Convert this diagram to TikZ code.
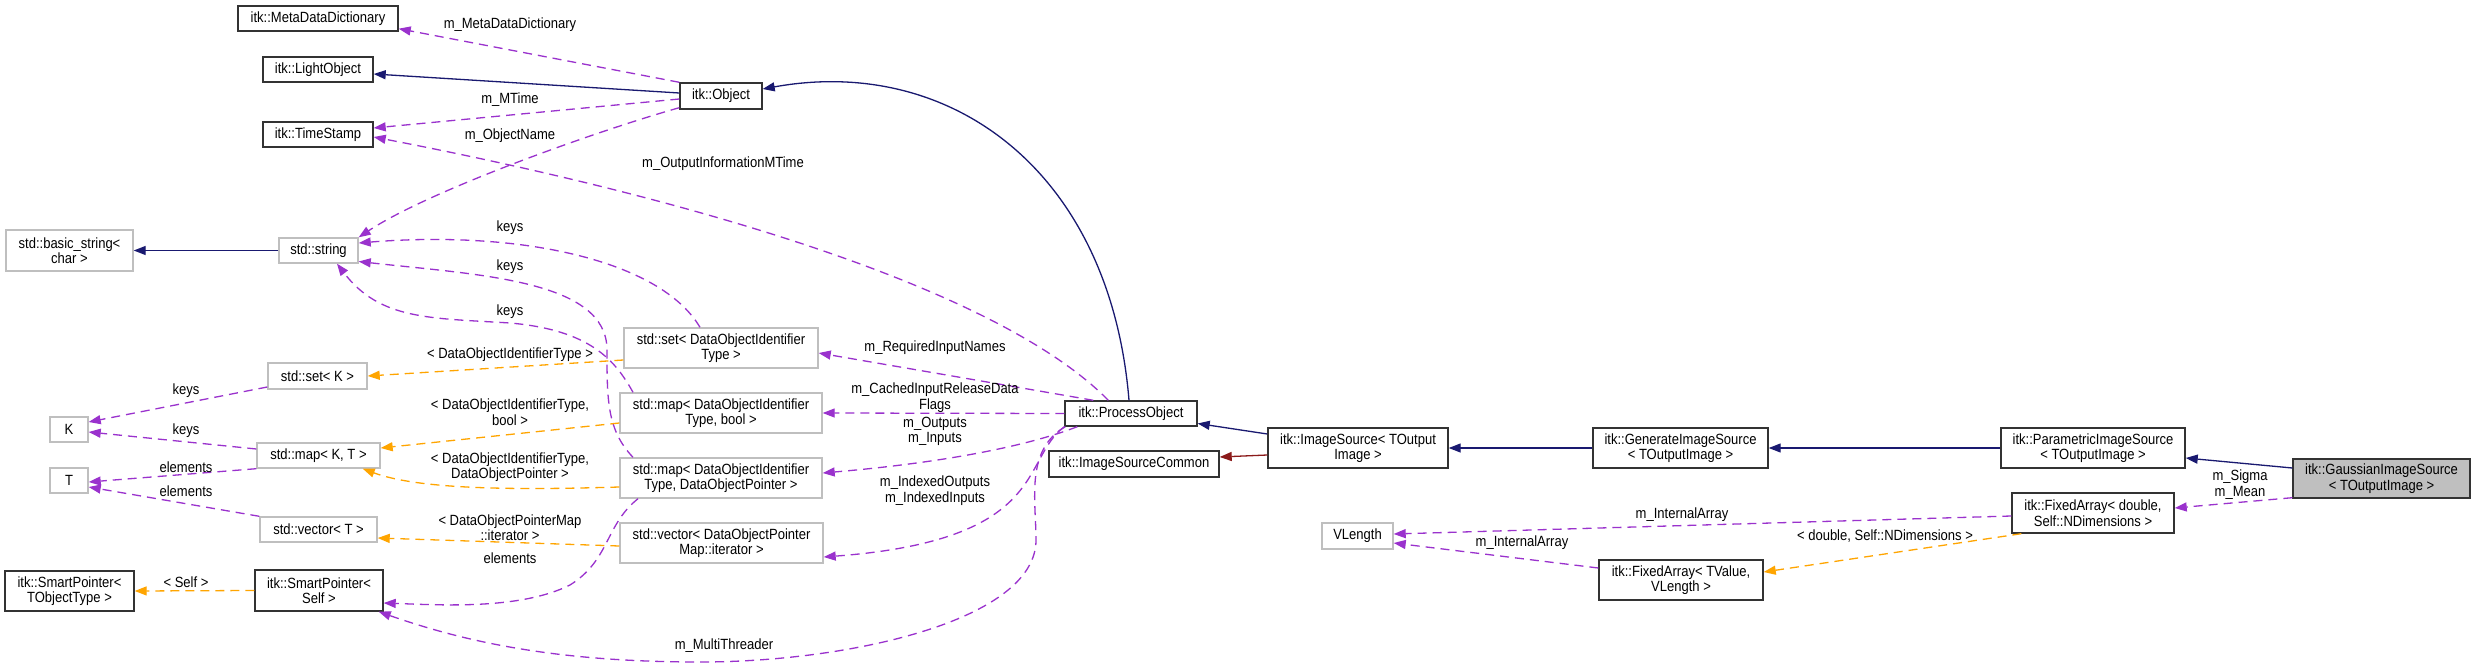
\documentclass[tikz,border=0pt]{standalone}
\usepackage{fontspec}
\setmainfont{Liberation Sans}[FakeStretch=0.88]
\usetikzlibrary{arrows.meta}
\definecolor{inh}{HTML}{191970}
\definecolor{use}{HTML}{9A32CD}
\definecolor{tpl}{HTML}{FFA500}
\definecolor{prv}{HTML}{8B1A1A}
\definecolor{grayb}{HTML}{BFBFBF}
\begin{document}
\begin{tikzpicture}[x=1pt,y=-1pt, font=\fontsize{14.8}{15.5}\selectfont,
 cls/.style={draw=black!80, line width=1.4pt, fill=white, inner sep=0pt, align=center},
 ext/.style={cls, draw=grayb},
 arrowtip/.style={-{Triangle[length=12pt,width=9pt]}},
 inhe/.style={draw=inh, line width=1.3pt, arrowtip},
 prve/.style={draw=prv, line width=1.3pt, arrowtip},
 usee/.style={draw=use, line width=1.3pt, dash pattern=on 9pt off 6pt, arrowtip},
 tple/.style={draw=tpl, line width=1.3pt, dash pattern=on 9pt off 6pt, arrowtip},
 lbl/.style={inner sep=0pt, align=center, text=black}]
\fill[white] (0,0) rectangle (2475,671);
\useasboundingbox (0,0) rectangle (2475,671);

% nodes
\node[cls, minimum width=160, minimum height=25] (mdd) at (318,18.5) {itk::MetaDataDictionary};
\node[cls, minimum width=110, minimum height=25] (lo) at (318,69.5) {itk::LightObject};
\node[cls, minimum width=110, minimum height=25] (ts) at (318,134.5) {itk::TimeStamp};
\node[cls, minimum width=82, minimum height=26] (obj) at (721,96) {itk::Object};
\node[ext, minimum width=127, minimum height=41] (bs) at (69.5,250.5) {std::basic\_string<\\char >};
\node[ext, minimum width=79, minimum height=25] (str) at (318.5,250.5) {std::string};
\node[ext, minimum width=99, minimum height=26] (setk) at (317.5,376) {std::set< K >};
\node[ext, minimum width=38, minimum height=25] (K) at (69,429.5) {K};
\node[ext, minimum width=123, minimum height=25] (mapkt) at (318.5,455.5) {std::map< K, T >};
\node[ext, minimum width=38, minimum height=25] (T) at (69,480.5) {T};
\node[ext, minimum width=117, minimum height=25] (vect) at (318.5,529.5) {std::vector< T >};
\node[cls, minimum width=129, minimum height=40] (spt) at (69.5,591) {itk::SmartPointer<\\TObjectType >};
\node[cls, minimum width=128, minimum height=41] (sps) at (319,590.5) {itk::SmartPointer<\\Self >};
\node[ext, minimum width=194, minimum height=40] (setd) at (721,348) {std::set< DataObjectIdentifier\\Type >};
\node[ext, minimum width=202, minimum height=40] (mapdb) at (721,413) {std::map< DataObjectIdentifier\\Type, bool >};
\node[ext, minimum width=202, minimum height=40] (mapdp) at (721,478) {std::map< DataObjectIdentifier\\Type, DataObjectPointer >};
\node[ext, minimum width=203, minimum height=40] (vecd) at (721.5,543) {std::vector< DataObjectPointer\\Map::iterator >};
\node[cls, minimum width=132, minimum height=25] (po) at (1131,413.5) {itk::ProcessObject};
\node[cls, minimum width=170, minimum height=26] (isc) at (1134,464) {itk::ImageSourceCommon};
\node[cls, minimum width=180, minimum height=40] (is) at (1358,448) {itk::ImageSource< TOutput\\Image >};
\node[cls, minimum width=175, minimum height=40] (gis) at (1680.5,448) {itk::GenerateImageSource\\< TOutputImage >};
\node[cls, minimum width=184, minimum height=40] (pis) at (2093,448) {itk::ParametricImageSource\\< TOutputImage >};
\node[cls, fill=grayb, minimum width=177, minimum height=39] (gauss) at (2381.5,478.5) {itk::GaussianImageSource\\< TOutputImage >};
\node[cls, minimum width=162, minimum height=40] (fad) at (2093,513) {itk::FixedArray< double,\\Self::NDimensions >};
\node[ext, minimum width=71, minimum height=26] (vlen) at (1357.5,536) {VLength};
\node[cls, minimum width=164, minimum height=40] (fav) at (1681,580) {itk::FixedArray< TValue,\\VLength >};

% inheritance
\draw[inhe] ([yshift=3pt]obj.west) -- ([yshift=-4.5pt]lo.east);
\draw[inhe] ([xshift=-2pt]po.north) .. controls (1110,170) and (950,55) .. ([yshift=7pt]obj.east);
\draw[inhe] ([yshift=14pt]is.west) -- ([yshift=-10pt]po.east);
\draw[prve] ([yshift=-7pt]is.west) -- ([yshift=7pt]isc.east);
\draw[inhe] (gis.west) -- (is.east);
\draw[inhe] (pis.west) -- (gis.east);
\draw[inhe] ([yshift=10.5pt]gauss.west) -- ([yshift=-10pt]pis.east);
\draw[inhe] (str.west) -- (bs.east);

% usage
\draw[usee] (obj.north west) -- ([yshift=3pt]mdd.south east)
  node[lbl, at={(510,25)}] {m\_MetaDataDictionary};
\draw[usee] ([yshift=-3pt]obj.west) -- ([yshift=6.5pt]ts.east)
  node[lbl, at={(510,100)}] {m\_MTime};
\draw[usee] ([yshift=2pt]obj.south west) .. controls (600,130) and (430,190) .. (str.north east)
  node[lbl, at={(510,136)}] {m\_ObjectName};
\draw[usee] ([xshift=44pt]po.north west) .. controls (1000,290) and (700,200) .. ([yshift=-2.5pt]ts.east)
  node[lbl, at={(723,164)}] {m\_OutputInformationMTime};
\draw[usee] ([xshift=-21pt]setd.north) .. controls (660,260) and (520,230) .. ([yshift=7.5pt]str.east)
  node[lbl, at={(510,228)}] {keys};
\draw[usee] ([xshift=-88pt]mapdp.north) .. controls (607,430) and (607,400) .. (607,350)
  .. controls (607,280) and (480,275) .. ([yshift=-11pt]str.east)
  node[lbl, at={(510,267)}] {keys};
\draw[usee] ([xshift=-88pt]mapdb.north) .. controls (615,360) and (590,330) .. (510,323)
  .. controls (430,318) and (380,320) .. ([xshift=18.5pt]str.south)
  node[lbl, at={(510,312)}] {keys};
\draw[usee] ([xshift=29pt]po.north west) -- ([yshift=-5pt]setd.east)
  node[lbl, at={(935,348)}] {m\_RequiredInputNames};
\draw[usee] (po.west) -- (mapdb.east)
  node[lbl, at={(935,397.5)}] {m\_CachedInputReleaseData\\Flags};
\draw[usee] ([xshift=13pt]po.south west) .. controls (1030,445) and (950,462) .. ([yshift=5pt]mapdp.east)
  node[lbl, at={(935,431.5)}] {m\_Outputs\\m\_Inputs};
\draw[usee] (po.south west) .. controls (1020,460) and (1050,540) .. ([yshift=-14pt]vecd.east)
  node[lbl, at={(935,490.5)}] {m\_IndexedOutputs\\m\_IndexedInputs};
\draw[usee] ([xshift=1pt]po.south west) .. controls (1025,450) and (1036,500) .. (1036,540)
  .. controls (1036,620) and (850,662) .. (700,662)
  .. controls (550,662) and (460,640) .. ([xshift=-5pt]sps.south east)
  node[lbl, at={(724,646)}] {m\_MultiThreader};
\draw[usee] ([xshift=-83pt]mapdp.south) .. controls (605,525) and (610,560) .. (570,585)
  .. controls (520,610) and (440,605) .. ([yshift=-12.5pt]sps.east)
  node[lbl, at={(510,558)}] {elements};
\draw[usee] ([yshift=-11pt]setk.west) -- ([yshift=7.5pt]K.east)
  node[lbl, at={(186,391)}] {keys};
\draw[usee] ([yshift=6.5pt]mapkt.west) -- ([yshift=-2.5pt]K.east)
  node[lbl, at={(186,431)}] {keys};
\draw[usee] (mapkt.south west) -- ([yshift=-1.5pt]T.east)
  node[lbl, at={(186,467)}] {elements};
\draw[usee] (vect.north west) -- ([yshift=-6.5pt]T.east)
  node[lbl, at={(186,491)}] {elements};
\draw[usee] ([yshift=1pt]gauss.south west) -- ([yshift=5pt]fad.east)
  node[lbl, at={(2240,484.5)}] {m\_Sigma\\m\_Mean};
\draw[usee] ([yshift=-3pt]fad.west) -- ([yshift=2pt]vlen.east)
  node[lbl, at={(1682,515)}] {m\_InternalArray};
\draw[usee] ([yshift=12pt]fav.west) -- ([yshift=-7pt]vlen.east)
  node[lbl, at={(1522,543)}] {m\_InternalArray};

% template instances
\draw[tple] ([yshift=-12pt]setd.west) -- (setk.east)
  node[lbl, at={(510,355)}] {< DataObjectIdentifierType >};
\draw[tple] ([yshift=-10pt]mapdb.west) -- ([yshift=7.5pt]mapkt.east)
  node[lbl, at={(510,412)}] {< DataObjectIdentifierType,\\bool >};
\draw[tple] ([yshift=-9pt]mapdp.west) .. controls (520,490) and (420,490) .. ([xshift=-18pt]mapkt.south east)
  node[lbl, at={(510,467)}] {< DataObjectIdentifierType,\\DataObjectPointer >};
\draw[tple] ([yshift=-3pt]vecd.west) -- ([yshift=-8.5pt]vect.east)
  node[lbl, at={(510,527.5)}] {< DataObjectPointerMap\\::iterator >};
\draw[tple] (sps.west) -- (spt.east)
  node[lbl, at={(186,582)}] {< Self >};
\draw[tple] ([xshift=10pt]fad.south west) -- ([yshift=8pt]fav.east)
  node[lbl, at={(1885,536)}] {< double, Self::NDimensions >};
\end{tikzpicture}
\end{document}
